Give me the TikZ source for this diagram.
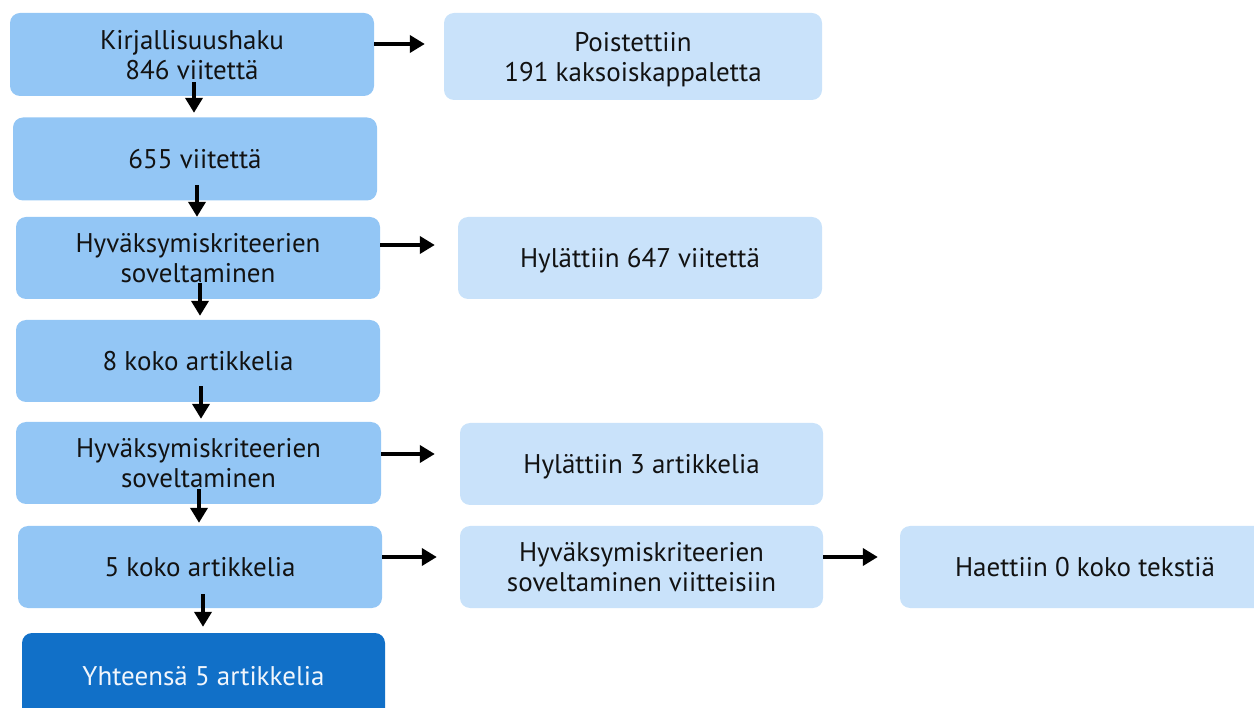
\documentclass[tikz,border=0pt]{standalone}
\usepackage{fontspec}
\setmainfont{PT Sans}
\usetikzlibrary{arrows.meta}
\definecolor{midblue}{HTML}{93C6F5}
\definecolor{lightblue}{HTML}{C9E2FA}
\definecolor{darkblue}{HTML}{1170C8}
\tikzset{
  box/.style={rectangle, rounded corners=10pt, inner sep=2pt, align=center,
    font=\fontsize{27}{30}\selectfont, text=black!93, text depth=0pt},
  midbox/.style={box, fill=midblue},
  lightbox/.style={box, fill=lightblue},
  darkbox/.style={box, fill=darkblue, text=white!94!darkblue},
  arr/.style={line width=4pt, -{Triangle[length=15pt,width=17pt]}}
}
\begin{document}
\begin{tikzpicture}[x=1pt,y=-1pt]
\useasboundingbox (0,0) rectangle (1254,708);
\clip (0,0) rectangle (1254,708);
% left column
\node[midbox, minimum width=364pt, minimum height=83pt] (b1) at (192,54.5) {Kirjallisuushaku\\846 viitettä};
\node[midbox, minimum width=364pt, minimum height=83pt] (b2) at (195,159) {655 viitettä};
\node[midbox, minimum width=364pt, minimum height=82pt] (b3) at (198,258) {Hyväksymiskriteerien\\soveltaminen};
\node[midbox, minimum width=364pt, minimum height=82pt] (b4) at (198,361) {8 koko artikkelia};
\node[midbox, minimum width=365pt, minimum height=82pt] (b5) at (198.5,463) {Hyväksymiskriteerien\\soveltaminen};
\node[midbox, minimum width=364pt, minimum height=82pt] (b6) at (200,567) {5 koko artikkelia};
\node[darkbox, minimum width=363pt, minimum height=86pt] (b7) at (203.5,676) {Yhteensä 5 artikkelia};
% right column
\node[lightbox, minimum width=378pt, minimum height=87pt] (r1) at (633,56.5) {Poistettiin\\191 kaksoiskappaletta};
\node[lightbox, minimum width=364pt, minimum height=82pt] (r2) at (640,258) {Hylättiin 647 viitettä};
\node[lightbox, minimum width=363pt, minimum height=82pt] (r3) at (641.5,464) {Hylättiin 3 artikkelia};
\node[lightbox, minimum width=363pt, minimum height=82pt] (r4) at (641.5,567) {Hyväksymiskriteerien\\soveltaminen viitteisiin};
\node[lightbox, minimum width=370pt, minimum height=82pt] (r5) at (1085,567) {Haettiin 0 koko tekstiä};
% horizontal arrows
\draw[arr] ([yshift=10.5pt]b1.east) -- ([shift={(-19pt,12.5pt)}]r1.west);
\draw[arr] ([yshift=13pt]b3.east) -- ([shift={(-23pt,13pt)}]r2.west);
\draw[arr] ([yshift=9pt]b5.east) -- ([shift={(-25pt,10pt)}]r3.west);
\draw[arr] ([yshift=10pt]b6.east) -- ([shift={(-23pt,10pt)}]r4.west);
\draw[arr] ([yshift=10pt]r4.east) -- ([shift={(-22pt,10pt)}]r5.west);
% vertical arrows
\draw[arr] ([shift={(2pt,14pt)}]b1.south) -- ([shift={(-1pt,4.5pt)}]b2.north);
\draw[arr] ([shift={(2pt,15.5pt)}]b2.south) -- ([shift={(-1pt,0pt)}]b3.north);
\draw[arr] ([shift={(2pt,16pt)}]b3.south) -- ([shift={(2pt,4pt)}]b4.north);
\draw[arr] ([shift={(3pt,16pt)}]b4.south) -- ([shift={(2.5pt,3pt)}]b5.north);
\draw[arr] ([shift={(0.5pt,15pt)}]b5.south) -- ([shift={(-1pt,3pt)}]b6.north);
\draw[arr] ([shift={(3pt,14pt)}]b6.south) -- ([shift={(-0.5pt,6pt)}]b7.north);
\end{tikzpicture}
\end{document}
